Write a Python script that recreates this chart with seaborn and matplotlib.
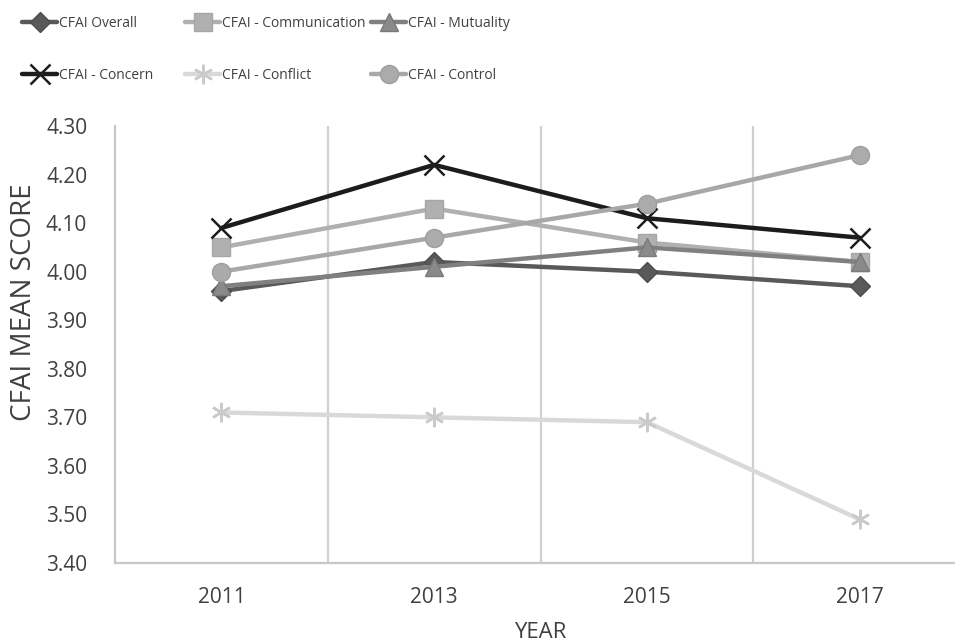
import matplotlib
matplotlib.use("Agg")
import matplotlib.pyplot as plt
import seaborn as sns
import pandas as pd

# Survey waves and CFAI mean scores per subscale
years = ["2011", "2013", "2015", "2017"]
overall = [3.96, 4.02, 4.00, 3.97]
communication = [4.05, 4.13, 4.06, 4.02]
mutuality = [3.97, 4.01, 4.05, 4.02]
concern = [4.09, 4.22, 4.11, 4.07]
conflict = [3.71, 3.70, 3.69, 3.49]
control = [4.00, 4.07, 4.14, 4.24]

series_names = ["CFAI Overall", "CFAI - Communication", "CFAI - Mutuality",
                "CFAI - Concern", "CFAI - Conflict", "CFAI - Control"]
series_values = [overall, communication, mutuality, concern, conflict, control]
y_ticks = [3.40, 3.50, 3.60, 3.70, 3.80, 3.90, 4.00, 4.10, 4.20, 4.30]

rows = []
for name, vals in zip(series_names, series_values):
    for i, (yr, v) in enumerate(zip(years, vals)):
        rows.append({"series": name, "pos": i, "year": yr, "score": v})
df = pd.DataFrame(rows)

styles = {
    "CFAI Overall": dict(color="#595959", marker="D", ms=10.5, mfc="#595959", mec="#4d4d4d", mew=1.0),
    "CFAI - Communication": dict(color="#B0B0B0", marker="s", ms=12.5, mfc="#B0B0B0", mec="#A6A6A6", mew=1.0),
    "CFAI - Mutuality": dict(color="#808080", marker="^", ms=13, mfc="#8A8A8A", mec="#7A7A7A", mew=1.0),
    "CFAI - Concern": dict(color="#1C1C1C", marker="x", ms=14.5, mfc="#1C1C1C", mec="#1C1C1C", mew=1.8),
    "CFAI - Conflict": dict(color="#D9D9D9", marker=(6, 2, 0), ms=14, mfc="#CFCFCF", mec="#CACACA", mew=1.8),
    "CFAI - Control": dict(color="#A8A8A8", marker="o", ms=13, mfc="#ABABAB", mec="#9E9E9E", mew=1.0),
}

sns.set_theme(style="white")
plt.rcParams["font.family"] = ["Open Sans", "DejaVu Sans"]

fig = plt.figure(figsize=(9.55, 6.44), dpi=100)
ax = fig.add_axes([115 / 955, 1 - 563 / 644, 1 - 115 / 955, (563 - 126) / 644])

for name in series_names:
    st = styles[name]
    sub = df[df["series"] == name]
    sns.lineplot(data=sub, x="pos", y="score", ax=ax, color=st["color"], lw=3.2,
                 marker=st["marker"], markersize=st["ms"], markerfacecolor=st["mfc"],
                 markeredgecolor=st["mec"], markeredgewidth=st["mew"],
                 label=name, legend=False, sort=False, errorbar=None)

ax.set_xlim(-0.5, 3.448)
ax.set_ylim(3.40, 4.30)
ax.set_xticks(range(len(years)))
ax.set_xticklabels(years)
ax.set_yticks(y_ticks)
ax.set_yticklabels([f"{t:.2f}" for t in y_ticks])

# vertical separators between year categories
ax.set_xticks([0.5, 1.5, 2.5], minor=True)
ax.grid(False)
ax.grid(which="minor", axis="x", color="#D0D0D0", lw=1.6)
ax.set_axisbelow(True)

for side in ["top", "right"]:
    ax.spines[side].set_visible(False)
for side in ["left", "bottom"]:
    ax.spines[side].set_color("#C8C8C8")
    ax.spines[side].set_linewidth(1.6)

ax.tick_params(axis="y", which="major", length=0, pad=20, labelsize=15, labelcolor="#404040")
ax.tick_params(axis="x", which="major", length=0, pad=17, labelsize=15, labelcolor="#404040")
ax.tick_params(which="minor", length=0)

ax.set_ylabel("CFAI MEAN SCORE", fontsize=20, color="#404040", va="center")
ax.yaxis.set_label_coords((24 - 115) / 840, (563 - 302) / 437)
ax.set_xlabel("YEAR", fontsize=16, color="#404040", va="center")
ax.xaxis.set_label_coords((540 - 115) / 840, (563 - 632) / 437)

# legend laid out in two rows of three entries
hmap = {h.get_label(): h for h in ax.get_lines()}
columns = [["CFAI Overall", "CFAI - Concern"],
           ["CFAI - Communication", "CFAI - Conflict"],
           ["CFAI - Mutuality", "CFAI - Control"]]
col_x = [22, 185, 371]
fs_pt = 10
fs_px = fs_pt * 100 / 72
for names, x in zip(columns, col_x):
    fig.legend(handles=[hmap[n] for n in names], labels=names, loc="upper left",
               bbox_to_anchor=(x / 955, 1 - 16 / 644), bbox_transform=fig.transFigure,
               frameon=False, borderpad=0, borderaxespad=0, handlelength=35 / fs_px,
               handletextpad=0.12, labelspacing=2.65,
               prop={"family": ["Open Sans", "DejaVu Sans"], "size": fs_pt},
               labelcolor="#404040")

fig.savefig("out.png", dpi=100, facecolor="white")
